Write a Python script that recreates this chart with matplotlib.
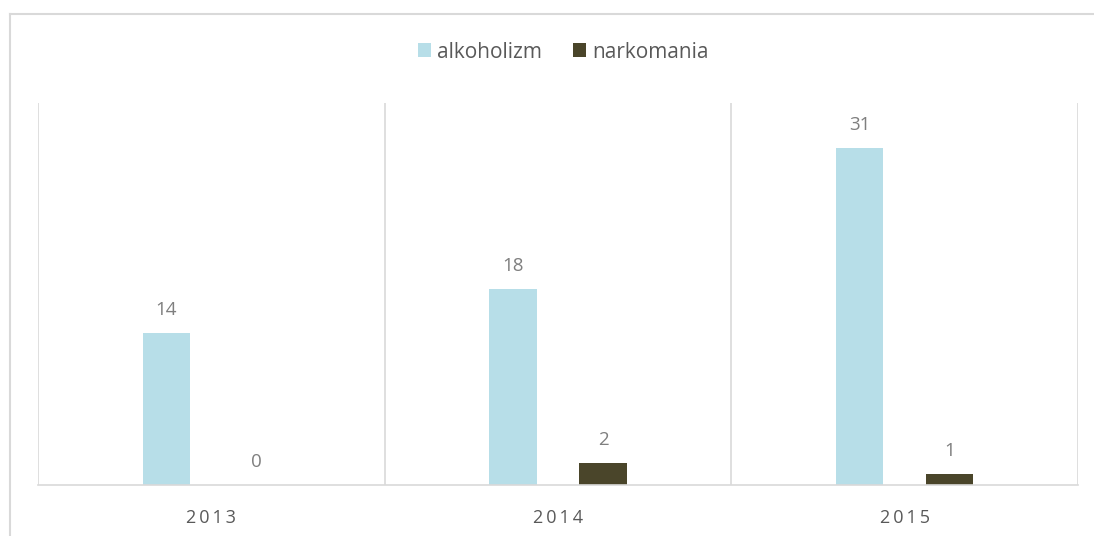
import numpy as np
from matplotlib import pyplot as plt
from matplotlib.lines import Line2D

years = ["2013", "2014", "2015"]
alkoholizm = [14, 18, 31]
narkomania = [0, 2, 1]
series_names = ["alkoholizm", "narkomania"]

plt.rcParams["font.family"] = ["Open Sans", "DejaVu Sans"]

alk_color = "#B7DEE8"
nark_color = "#4A452A"
text_gray = "#595959"
label_gray = "#7F7F7F"
grid_gray = "#D9D9D9"

fig = plt.figure(figsize=(10.94, 5.36), dpi=100)
ax = fig.add_axes([38 / 1094, 51 / 536, 1040 / 1094, 382 / 536])

x = np.arange(len(years))
width = 0.136
offset = 0.13
bars_alk = ax.bar(x - offset, alkoholizm, width, color=alk_color, label=series_names[0])
bars_nark = ax.bar(x + offset, narkomania, width, color=nark_color, label=series_names[1])

for bars in (bars_alk, bars_nark):
    for b in bars:
        h = b.get_height()
        ax.annotate(f"{h:g}", (b.get_x() + b.get_width() / 2, h),
                    xytext=(0, 16.5), textcoords="offset points",
                    ha="center", va="center", fontsize=13.5, color=label_gray)

ax.set_xlim(-0.5, len(years) - 0.5)
ax.set_ylim(0, 35.1)

# category separators
for xs in np.arange(-0.5, len(years), 1.0):
    ax.axvline(xs, color=grid_gray, lw=1.2, zorder=0)

for side in ["top", "right", "left"]:
    ax.spines[side].set_visible(False)
ax.spines["bottom"].set_color(grid_gray)
ax.spines["bottom"].set_linewidth(1.2)

ax.set_yticks([])
ax.set_xticks(x)
ax.set_xticklabels(["\u2009".join(y) for y in years], fontsize=13, color=text_gray)
ax.tick_params(axis="x", length=0, pad=17)

ax.legend(loc="center", bbox_to_anchor=(0.515, 1 - 52 / 536),
          bbox_transform=fig.transFigure, ncol=2, frameon=False,
          fontsize=15, labelcolor=text_gray, handlelength=0.62,
          handleheight=0.62, handletextpad=0.3, columnspacing=1.5)

# outer chart border (only top and left visible)
by = 1 - 14 / 536
bx = 10 / 1094
fig.add_artist(Line2D([bx, bx], [0, by], color=grid_gray, lw=1.5, transform=fig.transFigure))
fig.add_artist(Line2D([bx, 1], [by, by], color=grid_gray, lw=1.5, transform=fig.transFigure))

fig.savefig("out.png", dpi=100)
